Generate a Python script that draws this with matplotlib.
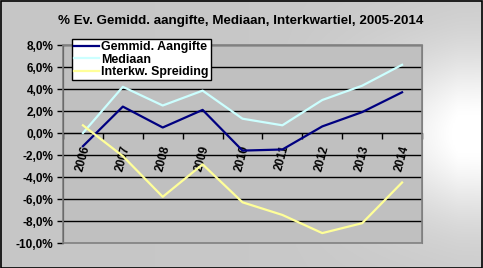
import numpy as np
import matplotlib
matplotlib.use("Agg")
import matplotlib.pyplot as plt
from matplotlib.patches import Rectangle
from matplotlib.ticker import FuncFormatter

years = ["2006", "2007", "2008", "2009", "2010", "2011", "2012", "2013", "2014"]
gemmid = [-1.2, 2.4, 0.5, 2.1, -1.6, -1.5, 0.6, 1.9, 3.7]
mediaan = [0.0, 4.2, 2.5, 3.85, 1.3, 0.7, 3.0, 4.3, 6.2]
interkw = [0.7, -2.1, -5.8, -2.85, -6.3, -7.45, -9.1, -8.2, -4.5]
series_names = ["Gemmid. Aangifte", "Mediaan", "Interkw. Spreiding"]
title = "% Ev. Gemidd. aangifte, Mediaan, Interkwartiel, 2005-2014"

plt.rcParams['font.family'] = ['Liberation Sans', 'DejaVu Sans']

W, H = 483, 268
fig = plt.figure(figsize=(W / 100, H / 100), dpi=100)

# background gradient
bg = fig.add_axes([0, 0, 1, 1], zorder=-10)
yy, xx = np.mgrid[0:1:200j, 0:1:300j]
ramp = np.clip((xx - 0.55) / 0.4, 0, 1) ** 1.5
v = 0.78 + 0.22 * ramp * np.exp(-((yy - 0.5) / 0.3) ** 2)
v = v + 0.02 * np.clip((xx - 0.3), 0, 1)
img = np.dstack([v, v, v])
bg.imshow(np.clip(img, 0, 1), extent=[0, 1, 0, 1], aspect='auto', origin='lower')
bg.set_xlim(0, 1); bg.set_ylim(0, 1)
bg.axis('off')
bg.add_patch(Rectangle((0.5 / W, 0.5 / H), 1 - 1.5 / W, 1 - 1.5 / H, fill=False,
                       edgecolor='black', lw=1.2, transform=bg.transAxes))

ax = fig.add_axes([63 / W, 1 - 243 / H, (422 - 63) / W, (243 - 45) / H])
ax.set_facecolor('#C0C0C0')
x = np.arange(len(years))
ax.set_xlim(-0.5, len(years) - 0.5)
ax.set_ylim(-10, 8)
ax.set_yticks(np.arange(-10, 8.1, 2))
ax.yaxis.set_major_formatter(FuncFormatter(lambda v, p: f"{v:.1f}%".replace('.', ',')))
for t in np.arange(-8, 8.1, 2):
    ax.axhline(t, color='black', lw=1.0, zorder=1)

ax.plot(x, gemmid, color='#000080', lw=1.6, label=series_names[0], zorder=3)
ax.plot(x, mediaan, color='#CCFFFF', lw=1.6, label=series_names[1], zorder=3)
ax.plot(x, interkw, color='#FFFF99', lw=1.6, label=series_names[2], zorder=3)

for s in ['top', 'right']:
    ax.spines[s].set_color('#808080')
ax.spines['left'].set_color('black')
ax.spines['bottom'].set_position(('data', 0))
ax.spines['bottom'].set_color('black')
ax.add_patch(Rectangle((0, 0), 1, 1, fill=False, edgecolor='#808080', lw=1.2,
                       transform=ax.transAxes, zorder=4, clip_on=False))

ax.set_xticks(np.arange(-0.5, len(years), 1.0))
ax.set_xticklabels([])
ax.tick_params(axis='x', which='major', direction='out', length=4, width=1, color='black')
ax.set_xticks(x, minor=True)
ax.set_xticklabels(years, minor=True, rotation=75, fontsize=8.5, fontweight='bold')
ax.tick_params(axis='x', which='minor', length=0, pad=8)
ax.tick_params(axis='y', direction='out', length=4, width=1, color='black',
               labelsize=8.5, pad=3)
for lab in ax.get_yticklabels():
    lab.set_fontweight('bold')

fig.text(241 / W, 1 - 21 / H, title, ha='center', va='center', fontsize=9.6,
         fontweight='bold')

leg = ax.legend(loc='upper left', bbox_to_anchor=(72 / W, 1 - 39 / H),
                bbox_transform=fig.transFigure, borderaxespad=0, fancybox=False,
                framealpha=1, edgecolor='black', facecolor='white',
                prop={'size': 8.9, 'weight': 'bold'}, handlelength=2.0,
                handletextpad=0.15, labelspacing=0.02, borderpad=0.2)
leg.get_frame().set_linewidth(1.0)
leg.set_zorder(5)

fig.savefig('out.png', dpi=100)
